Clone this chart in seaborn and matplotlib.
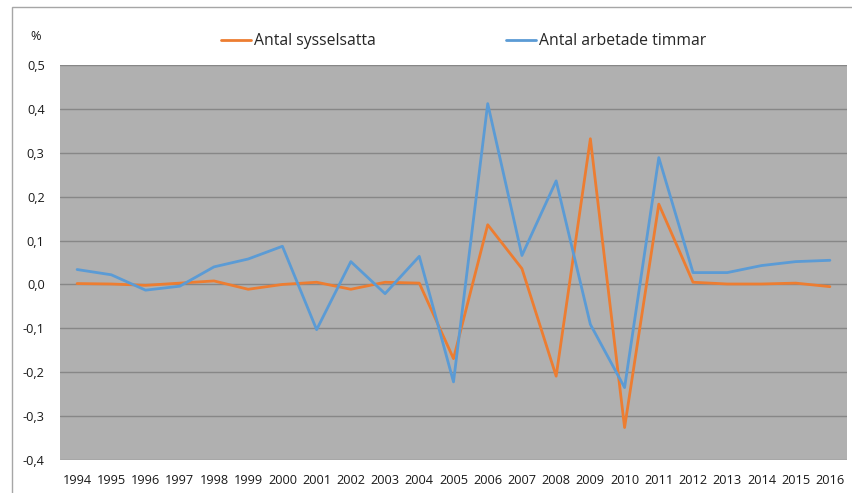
import numpy as np
import pandas as pd
import matplotlib
matplotlib.use("Agg")
import matplotlib.pyplot as plt
import seaborn as sns
from matplotlib.ticker import FuncFormatter, MultipleLocator
from matplotlib.patches import Rectangle

years = list(range(1994, 2017))
sysselsatta = [0.002, 0.001, -0.002, 0.003, 0.008, -0.011, 0.000, 0.005, -0.011, 0.005, 0.003,
               -0.169, 0.136, 0.036, -0.209, 0.332, -0.326, 0.183, 0.005, 0.001, 0.001, 0.003, -0.005]
timmar = [0.034, 0.022, -0.013, -0.004, 0.040, 0.058, 0.087, -0.103, 0.052, -0.021, 0.064,
          -0.222, 0.412, 0.066, 0.236, -0.091, -0.235, 0.289, 0.027, 0.027, 0.043, 0.052, 0.055]
series_names = ["Antal sysselsatta", "Antal arbetade timmar"]
colors = ["#ED7D31", "#5B9BD5"]

df = pd.DataFrame({
    "year": years * 2,
    "value": sysselsatta + timmar,
    "serie": [series_names[0]] * len(years) + [series_names[1]] * len(years),
})

sns.set_style("white")
plt.rcParams["font.family"] = ["Open Sans", "DejaVu Sans"]

fig = plt.figure(figsize=(8.52, 4.93), dpi=100)
ax = fig.add_axes([60 / 852, 33 / 493, 787 / 852, 395 / 493])
ax.set_facecolor("#B0B0B0")

sns.lineplot(data=df, x="year", y="value", hue="serie", palette=colors,
             linewidth=2, ax=ax, legend=False)

ax.set_xlim(1993.5, 2016.5)
ax.set_ylim(-0.4, 0.5)
ax.yaxis.set_major_locator(MultipleLocator(0.1))
ax.yaxis.set_major_formatter(FuncFormatter(lambda v, p: f"{v:.1f}".replace(".", ",").replace("-0,0", "0,0")))
ax.set_xticks(years)
ax.set_xticklabels([str(y) for y in years])
ax.grid(axis="y", color="#878787", linewidth=1)
ax.set_axisbelow(True)
for s in ax.spines.values():
    s.set_visible(False)
ax.tick_params(axis="both", length=0, labelsize=9.2, colors="#1a1a1a")
ax.tick_params(axis="x", pad=10)
ax.tick_params(axis="y", pad=11)
ax.set_xlabel("")
ax.set_ylabel("")

fig.text(36 / 852, 1 - 36 / 493, "%", fontsize=9.2, ha="center", va="center", color="#1a1a1a")

handles = [plt.Line2D([], [], color=c, linewidth=2) for c in colors]
fig.legend(handles, series_names, loc="center", bbox_to_anchor=(464 / 852, 1 - 41 / 493),
           ncol=2, frameon=False, fontsize=11.3, handlelength=1.9, handletextpad=0.2,
           columnspacing=8.3)

# outer chart border
fig.patches.append(Rectangle((12 / 852, -0.1), 1.2, 1 - 7 / 493 + 0.1, transform=fig.transFigure,
                             fill=False, edgecolor="#A6A6A6", linewidth=1))

fig.savefig("out.png", dpi=100)
